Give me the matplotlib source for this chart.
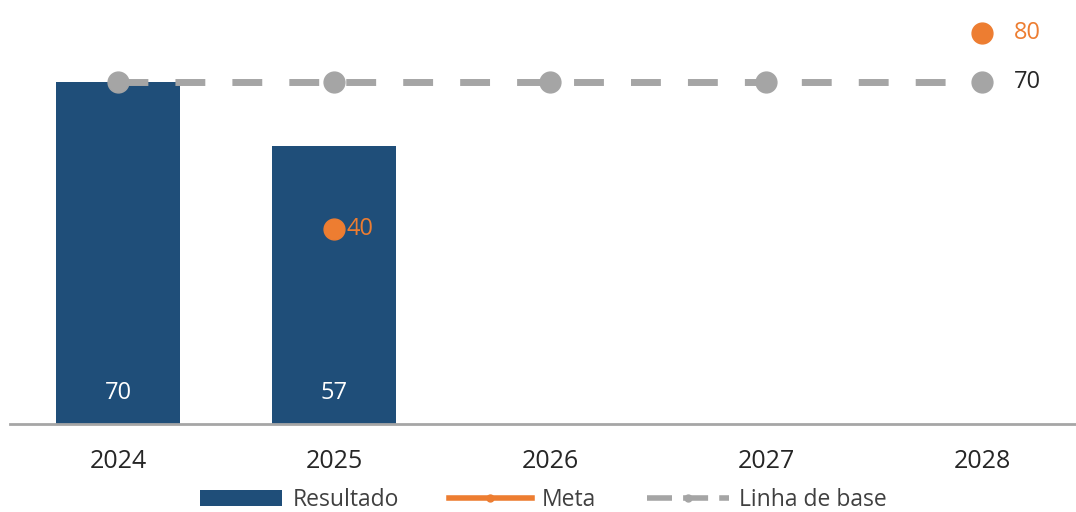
import numpy as np
import matplotlib
matplotlib.use("Agg")
import matplotlib.pyplot as plt
from matplotlib.lines import Line2D
from matplotlib.patches import Patch

plt.rcParams['font.family'] = ['Open Sans', 'DejaVu Sans']

years = ['2024', '2025', '2026', '2027', '2028']
resultado = [70, 57, np.nan, np.nan, np.nan]
meta = [np.nan, 40, np.nan, np.nan, 80]
linha_base = [70, 70, 70, 70, 70]

blue = '#1F4E79'
orange = '#ED7D31'
gray = '#A5A5A5'
dark = '#262626'

fig = plt.figure(figsize=(10.76, 5.12), dpi=100)
ax = fig.add_axes([10 / 1076, 88 / 512, 1066 / 1076, 424 / 512])
x = np.arange(len(years))

ax.bar(x, resultado, width=0.57, color=blue, zorder=1)
ax.plot(x, linha_base, color=gray, lw=5, dashes=(4.3, 3.9), marker='o', ms=15,
        dash_capstyle='butt', zorder=2)
ax.plot(x, meta, color=orange, lw=0, marker='o', ms=15, zorder=3)

# rótulos
for i, v in enumerate(resultado):
    if not np.isnan(v):
        ax.annotate(f'{v:.0f}', (x[i], 0), xytext=(0, 22), textcoords='offset points',
                    ha='center', va='center', color='white', fontsize=17)
meta_offsets = [0, 9, 0, 0, 23]
for i, v in enumerate(meta):
    if not np.isnan(v):
        ax.annotate(f'{v:.0f}', (x[i], v), xytext=(meta_offsets[i], 0), textcoords='offset points',
                    ha='left', va='center', color=orange, fontsize=17)
ax.annotate(f'{linha_base[-1]:.0f}', (x[-1], linha_base[-1]), xytext=(23, 0),
            textcoords='offset points', ha='left', va='center', color=dark, fontsize=17)

ax.set_xlim(-0.5, 4.435)
ax.set_ylim(0, 86.8)
ax.set_xticks(x)
ax.set_xticklabels(years, fontsize=18, color=dark)
ax.tick_params(axis='x', length=0, pad=18)
ax.set_yticks([])
for s in ['top', 'right', 'left']:
    ax.spines[s].set_visible(False)
ax.spines['bottom'].set_color('#A6A6A6')
ax.spines['bottom'].set_linewidth(2)

handles = [
    Patch(facecolor=blue, edgecolor='none'),
    Line2D([], [], color=orange, lw=4, marker='o', ms=5),
    Line2D([], [], color=gray, lw=4, dashes=(4.5, 2), marker='o', ms=5),
]
fig.legend(handles, ['Resultado', 'Meta', 'Linha de base'], loc='center',
           bbox_to_anchor=(0.505, 0.023), ncol=3, frameon=False, fontsize=16.5,
           handlelength=3.6, handleheight=0.7, columnspacing=2.2, handletextpad=0.45,
           labelcolor='#404040')

fig.savefig('out.png', dpi=100, facecolor='white')
